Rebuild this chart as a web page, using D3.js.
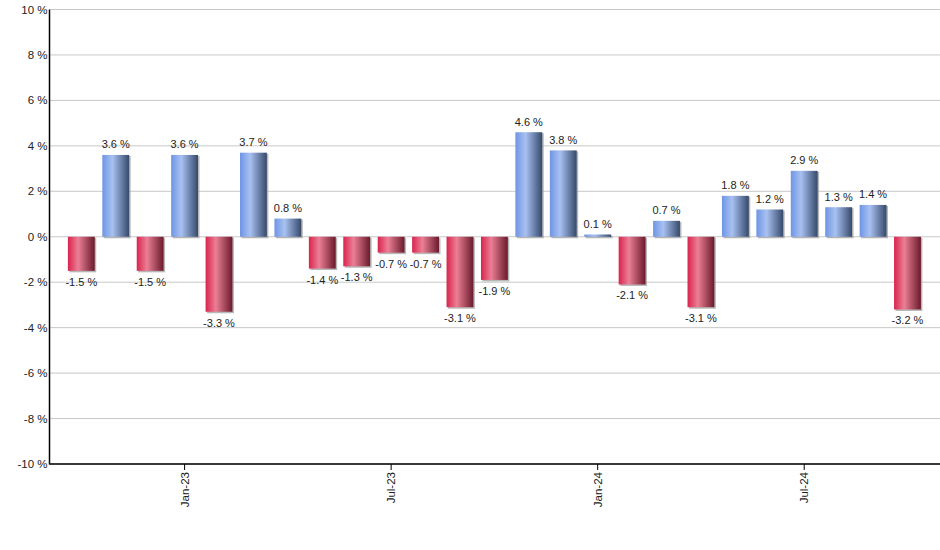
<!DOCTYPE html>
<html><head><meta charset="utf-8">
<script src="https://cdn.jsdelivr.net/npm/d3@7"></script>
<style>body{margin:0;background:#fff}svg{display:block}text{font-family:"Liberation Sans",Arial,sans-serif}</style>
</head><body>
<script>
const months = ["Oct-22","Nov-22","Dec-22","Jan-23","Feb-23","Mar-23","Apr-23","May-23","Jun-23","Jul-23","Aug-23","Sep-23","Oct-23","Nov-23","Dec-23","Jan-24","Feb-24","Mar-24","Apr-24","May-24","Jun-24","Jul-24","Aug-24","Sep-24","Oct-24"];
const values = [-1.5,3.6,-1.5,3.6,-3.3,3.7,0.8,-1.4,-1.3,-0.7,-0.7,-3.1,-1.9,4.6,3.8,0.1,-2.1,0.7,-3.1,1.8,1.2,2.9,1.3,1.4,-3.2];
const xTickLabels = ["Jan-23","Jul-23","Jan-24","Jul-24"];
const yTicks = [-10,-8,-6,-4,-2,0,2,4,6,8,10];

const W=940,H=550, L=49.5, R=940, T=9.5, B=464;
const svg=d3.select("body").append("svg").attr("width",W).attr("height",H);
const defs=svg.append("defs");
function grad(id,stops){const g=defs.append("linearGradient").attr("id",id).attr("x1","0").attr("x2","1").attr("y1","0").attr("y2","0");
 stops.forEach(s=>g.append("stop").attr("offset",s[0]).attr("stop-color",s[1]));}
grad("gBlue",[[0,"#6e95e4"],[0.38,"#a8c1f1"],[1,"#36496b"]]);
grad("gRed",[[0,"#d9234d"],[0.38,"#eb7f95"],[1,"#6a1a2c"]]);

const y=d3.scaleLinear().domain([-10,10]).range([B,T]);
const x=d3.scaleBand().domain(months).range([64.1,924.7]).paddingInner(0.22).paddingOuter(0.11);

// grid
svg.append("g").selectAll("line").data(yTicks).join("line")
 .attr("x1",L).attr("x2",R).attr("y1",d=>y(d)).attr("y2",d=>y(d))
 .attr("stroke","#c8c8c8").attr("stroke-width",1);

// y labels
svg.append("g").selectAll("text").data(yTicks).join("text")
 .attr("x",L-2).attr("y",d=>y(d)).attr("dy","0.35em").attr("text-anchor","end")
 .attr("font-size",11.5).attr("fill","#222").text(d=>d+" %");

const y0=y(0);
const bars=svg.append("g");
const data=months.map((m,i)=>({m,v:values[i]}));
// shadows
bars.selectAll("rect.sh").data(data).join("rect").attr("class","sh")
 .attr("x",d=>x(d.m)+1.5).attr("width",x.bandwidth())
 .attr("y",d=>Math.min(y(d.v),y0)+1).attr("height",d=>Math.abs(y(d.v)-y0)+0.5)
 .attr("fill","#9a9a9a").attr("opacity",0.7);
bars.selectAll("rect.b").data(data).join("rect").attr("class","b")
 .attr("x",d=>x(d.m)).attr("width",x.bandwidth())
 .attr("y",d=>Math.min(y(d.v),y0)).attr("height",d=>Math.max(1,Math.abs(y(d.v)-y0)))
 .attr("fill",d=>d.v>=0?"url(#gBlue)":"url(#gRed)");

// value labels
svg.append("g").selectAll("text").data(data).join("text")
 .attr("x",d=>x(d.m)+x.bandwidth()/2)
 .attr("y",d=>d.v>=0?y(d.v)-6.5:y(d.v)+15)
 .attr("text-anchor","middle").attr("font-size",11).attr("fill","#222")
 .text(d=>d.v.toFixed(1)+" %");

// axes lines
svg.append("line").attr("x1",L).attr("x2",L).attr("y1",T).attr("y2",B+0.5).attr("stroke","#000").attr("stroke-width",1.5);
svg.append("line").attr("x1",L).attr("x2",R).attr("y1",B).attr("y2",B).attr("stroke","#000").attr("stroke-width",1.5);

// x ticks
const xt=svg.append("g");
xTickLabels.forEach(t=>{
 const cx=x(t)+x.bandwidth()/2;
 xt.append("line").attr("x1",cx).attr("x2",cx).attr("y1",B).attr("y2",B+6).attr("stroke","#000");
 xt.append("text").attr("transform",`translate(${cx+4},${B+8}) rotate(-90)`)
  .attr("text-anchor","end").attr("font-size",11.5).attr("fill","#222").text(t);
});
</script>
</body></html>
